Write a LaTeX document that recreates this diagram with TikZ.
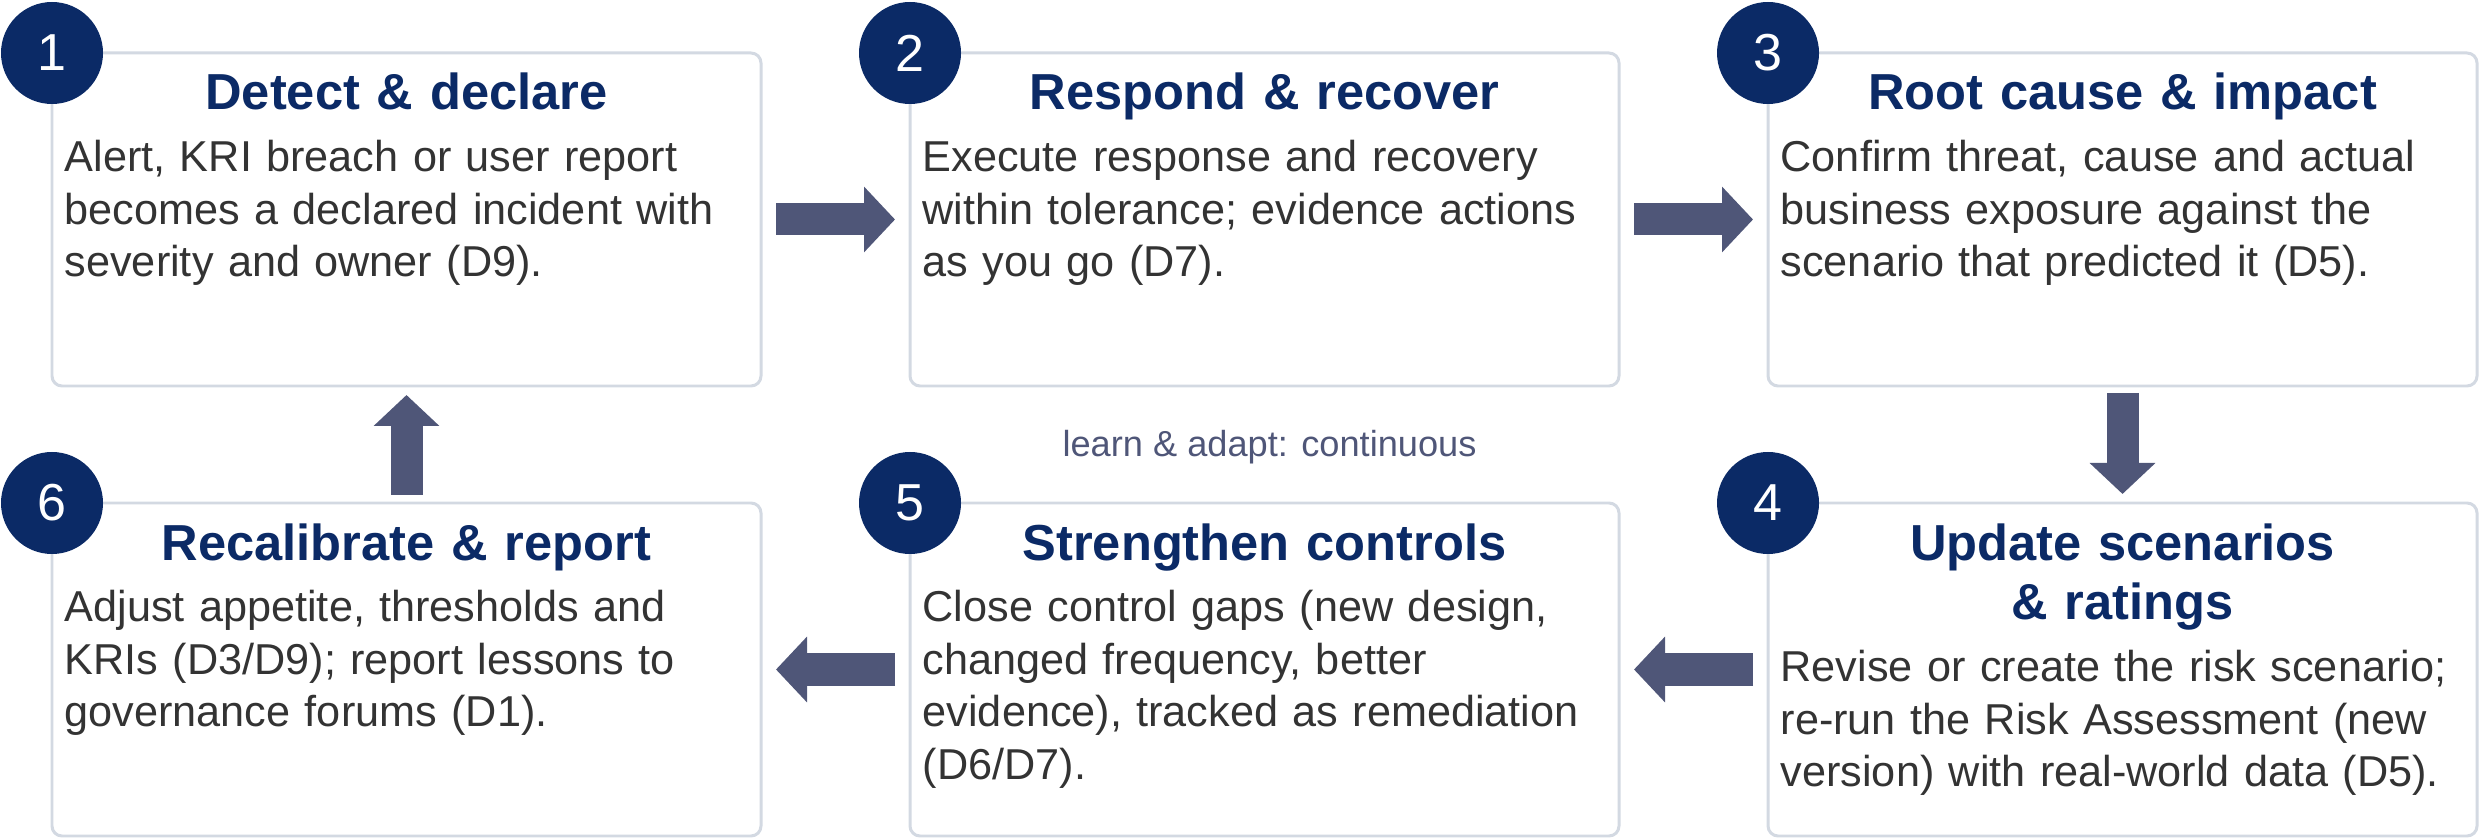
\documentclass[tikz,border=0pt]{standalone}
\usepackage{fontspec}
\setmainfont{Liberation Sans}
\usepackage{tikz}
\usetikzlibrary{calc, %for relative coord calculations
                arrows.meta, % for block arrows
                positioning}

\definecolor{navy}{HTML}{0B2A66}
\definecolor{slate}{HTML}{4F5678}
\definecolor{edge}{HTML}{D3D9E2}
\definecolor{ink}{HTML}{333333}

\begin{document}
\begin{tikzpicture}[StepBox/.style={draw=edge, line width=0.85pt, rounded corners=0.1cm, fill=white,
                                    minimum width=7.09cm, minimum height=3.33cm, inner sep=0pt, outer sep=0pt},
                    StepNum/.style={circle, fill=navy, minimum size=1.02cm, inner sep=0pt, text=white,
                                    font=\fontsize{14.8}{17}\selectfont},
                    StepTitle/.style={anchor=base, text=navy, text width=6.9cm, align=center, inner sep=0pt,
                                      font=\bfseries\fontsize{14.4}{17}\selectfont},
                    StepBody/.style={anchor=base west, text=ink, text width=6.9cm, align=left, inner sep=0pt,
                                     font=\fontsize{12.3}{14.9}\selectfont},
                    FlowArrow/.style={draw=slate, line width=0.32cm, -{Triangle[length=0.31cm, width=0.64cm]},
                                      shorten <=0.15cm, shorten >=0.15cm},
                    LoopLabel/.style={text=slate, font=\fontsize{10.3}{12}\selectfont}
                    ]
    \useasboundingbox (0,0) rectangle (24.80,-8.38);

    % BOXES %
    \node[StepBox] (S1) at (4.065,-2.195) {};
    \node[StepBox, right=1.49cm of S1] (S2) {};
    \node[StepBox, right=1.49cm of S2] (S3) {};
    \node[StepBox, below=1.17cm of S3] (S4) {};
    \node[StepBox, left=1.49cm of S4] (S5) {};
    \node[StepBox, left=1.49cm of S5] (S6) {};

    % TITLES %
    \node[StepTitle] at ($(S1.north) + (0,-0.57)$) (T1) {Detect \& declare};
    \node[StepTitle] at ($(S2.north) + (0,-0.57)$) (T2) {Respond \& recover};
    \node[StepTitle] at ($(S3.north) + (0,-0.57)$) (T3) {Root cause \& impact};
    \node[StepTitle] at ($(S4.north) + (0,-0.57)$) (T4) {Update scenarios\\ \& ratings};
    \node[StepTitle] at ($(S5.north) + (0,-0.57)$) (T5) {Strengthen controls};
    \node[StepTitle] at ($(S6.north) + (0,-0.57)$) (T6) {Recalibrate \& report};

    % TEXTS %
    \node[StepBody] at ($(S1.north west) + (0.12,-1.19)$) (D1) {Alert, KRI breach or user report\\
        becomes a declared incident with\\ severity and owner (D9).};
    \node[StepBody] at ($(S2.north west) + (0.12,-1.19)$) (D2) {Execute response and recovery\\
        within tolerance; evidence actions\\ as you go (D7).};
    \node[StepBody] at ($(S3.north west) + (0.12,-1.19)$) (D3) {Confirm threat, cause and actual\\
        business exposure against the\\ scenario that predicted it (D5).};
    \node[StepBody] at ($(S4.north west) + (0.12,-1.79)$) (D4) {Revise or create the risk scenario;\\
        re-run the Risk Assessment (new\\ version) with real-world data (D5).};
    \node[StepBody] at ($(S5.north west) + (0.12,-1.19)$) (D5) {Close control gaps (new design,\\
        changed frequency, better\\ evidence), tracked as remediation\\ (D6/D7).};
    \node[StepBody] at ($(S6.north west) + (0.12,-1.19)$) (D6) {Adjust appetite, thresholds and\\
        KRIs (D3/D9); report lessons to\\ governance forums (D1).};

    % NUMBERS %
    \foreach \i in {1,...,6}{
    \node[StepNum] at (S\i.north west) (N\i) {\i};
    }

    % ARROWS %
    \draw[FlowArrow] (S1) -- (S2);
    \draw[FlowArrow] (S2) -- (S3);
    \draw[FlowArrow, shorten <=0.07cm, shorten >=0.09cm] (S3) -- (S4);
    \draw[FlowArrow] (S4) -- (S5);
    \draw[FlowArrow] (S5) -- (S6);
    \draw[FlowArrow, shorten <=0.08cm, shorten >=0.09cm] (S6) -- (S1);

    % MIDDLE LABEL %
    \node[LoopLabel] at ($(S2.south)!0.5!(S5.north) + (0.05,-0.03)$) (loop) {learn \& adapt: continuous};

\end{tikzpicture}
\end{document}
